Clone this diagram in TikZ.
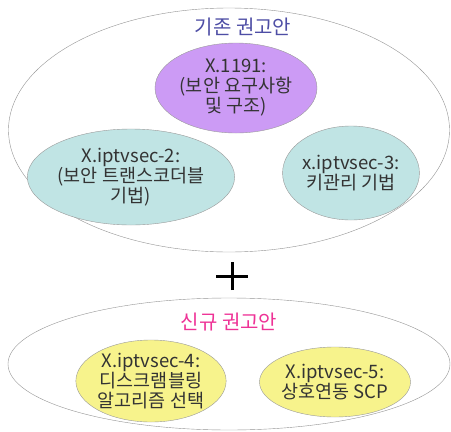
\documentclass[tikz,border=0pt]{standalone}
\usepackage{fontspec}
\newfontfamily\kfont{Noto Sans CJK KR}
\usetikzlibrary{shapes}
\definecolor{oldblue}{RGB}{78,78,165}
\definecolor{newpink}{RGB}{238,50,150}
\definecolor{violetfill}{RGB}{204,155,245}
\definecolor{tealfill}{RGB}{192,228,228}
\definecolor{yellowfill}{RGB}{247,243,140}
\tikzset{group/.style={ellipse, draw=gray!85, thin, inner sep=0pt},
  grouplab/.style={font=\kfont\fontsize{20}{22}\selectfont},
  spec/.style={ellipse, draw=gray!80, thin, inner sep=0pt, align=center,
    text=black!80, font=\kfont\fontsize{18.5}{20}\selectfont}}

\begin{document}
\begin{tikzpicture}[x=1pt,y=-1pt]
    \useasboundingbox (0,0) rectangle (451,432);
    % the two groups
    \node[group, minimum width=441, minimum height=244] (old) at (229,130) {};
    \node[group, minimum width=442, minimum height=132] (new) at (229,364) {};
    \node[grouplab, text=oldblue] (oldlab) at (243,27) {기존 권고안};
    \node[grouplab, text=newpink] (newlab) at (229,322) {신규 권고안};
    % recommendations
    \foreach \x/\y/\w/\h/\col/\lab/\tx in {
      236/88/162/90/violetfill/x1191/{X.1191:\\(보안 요구사항\\및 구조)},
      131/177/152/96/tealfill/sec2/{X.iptvsec-2:\\(보안 트랜스코더블\\기법)},
      351/173/136/94/tealfill/sec3/{x.iptvsec-3:\\키관리 기법},
      151/381/145/82/yellowfill/sec4/{X.iptvsec-4:\\디스크램블링\\알고리즘 선택},
      335/382/137/70/yellowfill/sec5/{X.iptvsec-5:\\상호연동 SCP}%
    } {
      \node[spec, fill=\col, minimum width=\w, minimum height=\h] (\lab) at (\x, \y) {\tx};
    }
    % plus between the groups
    \coordinate (plus) at (232,276);
    \draw[line width=3pt] ([xshift=-16pt]plus) -- ([xshift=16pt]plus)
      ([yshift=-14pt]plus) -- ([yshift=14pt]plus);
\end{tikzpicture}
\end{document}
